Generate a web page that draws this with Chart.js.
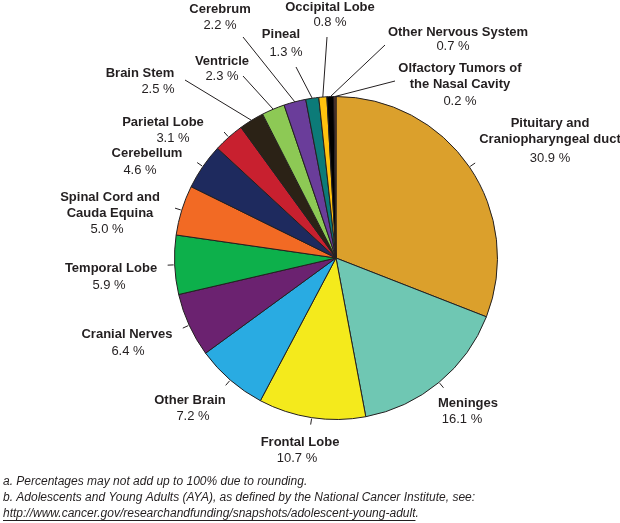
<!DOCTYPE html>
<html>
<head>
<meta charset="utf-8">
<script src="https://cdn.jsdelivr.net/npm/chart.js@4"></script>
<style>
html,body{margin:0;padding:0;background:#fff;}
#wrap{position:relative;width:620px;height:523px;}
canvas{position:absolute;left:0;top:0;}
</style>
</head>
<body>
<div id="wrap"><canvas id="c" width="620" height="523"></canvas></div>
<script>
// ---- data ----
const categories = [
  "Pituitary and\nCraniopharyngeal duct",
  "Meninges",
  "Frontal Lobe",
  "Other Brain",
  "Cranial Nerves",
  "Temporal Lobe",
  "Spinal Cord and\nCauda Equina",
  "Cerebellum",
  "Parietal Lobe",
  "Brain Stem",
  "Ventricle",
  "Cerebrum",
  "Pineal",
  "Occipital Lobe",
  "Other Nervous System",
  "Olfactory Tumors of\nthe Nasal Cavity"
];
const values = [30.9, 16.1, 10.7, 7.2, 6.4, 5.9, 5.0, 4.6, 3.1, 2.5, 2.3, 2.2, 1.3, 0.8, 0.7, 0.2];
const colors = ["#DBA02C","#6FC7B3","#F4EA1C","#29ABE2","#6B2270","#0DB04B","#F26A24","#1E2A5E",
                "#C8202F","#2B2216","#8DC955","#6A3D9A","#0C7B78","#FFC20E","#000000","#6B4030"];
const footnotes = [
  "a. Percentages may not add up to 100% due to rounding.",
  "b. Adolescents and Young Adults (AYA), as defined by the National Cancer Institute, see:",
  "http://www.cancer.gov/researchandfunding/snapshots/adolescent-young-adult"
];

// ---- label layout (text positions, not marks): [nameX, nameY, pctX, pctY, leaderEndX|null, leaderEndY|null]
const labelLayout = [
  [550, 123, 550, 158, null, null],
  [468, 403, 462, 419, null, null],
  [300, 442, 297, 458, null, null],
  [190, 400, 193, 416, null, null],
  [127, 334, 128, 351, null, null],
  [111, 268, 109, 285, null, null],
  [110, 197, 107, 229, null, null],
  [147, 153, 140, 170, null, null],
  [163, 122, 173, 138, null, null],
  [140,  73, 158,  89, 185, 80],
  [222,  61, 222,  76, 243, 76],
  [220,   9, 220,  25, 243, 37],
  [281,  34, 286,  52, 296, 67],
  [330,   7, 330,  22, 327, 37],
  [458,  32, 453,  46, 385, 45],
  [460,  68, 460, 101, 395, 81]
];

const labelPlugin = {
  id: 'sliceLabels',
  afterDatasetsDraw(chart) {
    const ctx = chart.ctx;
    const meta = chart.getDatasetMeta(0);
    ctx.save();
    meta.data.forEach((arc, i) => {
      const p = arc.getProps(['x','y','startAngle','endAngle','outerRadius'], true);
      const mid = (p.startAngle + p.endAngle) / 2;
      const L = labelLayout[i];
      const ex = p.x + Math.cos(mid) * p.outerRadius;
      const ey = p.y + Math.sin(mid) * p.outerRadius;
      ctx.strokeStyle = '#231F20';
      ctx.lineWidth = 1;
      ctx.beginPath();
      if (L[4] !== null) {
        ctx.moveTo(ex, ey);
        ctx.lineTo(L[4], L[5]);
      } else {
        ctx.moveTo(p.x + Math.cos(mid) * (p.outerRadius + 1), p.y + Math.sin(mid) * (p.outerRadius + 1));
        ctx.lineTo(p.x + Math.cos(mid) * (p.outerRadius + 7), p.y + Math.sin(mid) * (p.outerRadius + 7));
      }
      ctx.stroke();
      // text
      ctx.fillStyle = '#231F20';
      ctx.textAlign = 'center';
      ctx.textBaseline = 'middle';
      ctx.font = 'bold 13px "Liberation Sans", Arial, sans-serif';
      const lines = categories[i].split('\n');
      lines.forEach((t, k) => ctx.fillText(t, L[0], L[1] + k * 16));
      ctx.font = '13px "Liberation Sans", Arial, sans-serif';
      ctx.fillText(values[i].toFixed(1) + ' %', L[2], L[3]);
    });
    // footnotes
    ctx.textAlign = 'left';
    ctx.textBaseline = 'middle';
    ctx.font = 'italic 12px "Liberation Sans", Arial, sans-serif';
    const fy = [482, 498, 514];
    footnotes.forEach((t, k) => {
      ctx.fillText(t + (k === 2 ? '.' : ''), 3, fy[k]);
      if (k === 2) {
        const w = ctx.measureText(t).width;
        ctx.beginPath();
        ctx.moveTo(3, fy[k] + 6.5);
        ctx.lineTo(3 + w, fy[k] + 6.5);
        ctx.stroke();
      }
    });
    ctx.restore();
  }
};

new Chart(document.getElementById('c'), {
  type: 'pie',
  data: {
    labels: categories,
    datasets: [{
      data: values,
      backgroundColor: colors,
      borderColor: '#231F20',
      borderWidth: 1
    }]
  },
  options: {
    responsive: false,
    animation: false,
    layout: { padding: { left: 174, right: 122, top: 96, bottom: 103 } },
    plugins: { legend: { display: false }, tooltip: { enabled: false } }
  },
  plugins: [labelPlugin]
});
</script>
</body>
</html>
